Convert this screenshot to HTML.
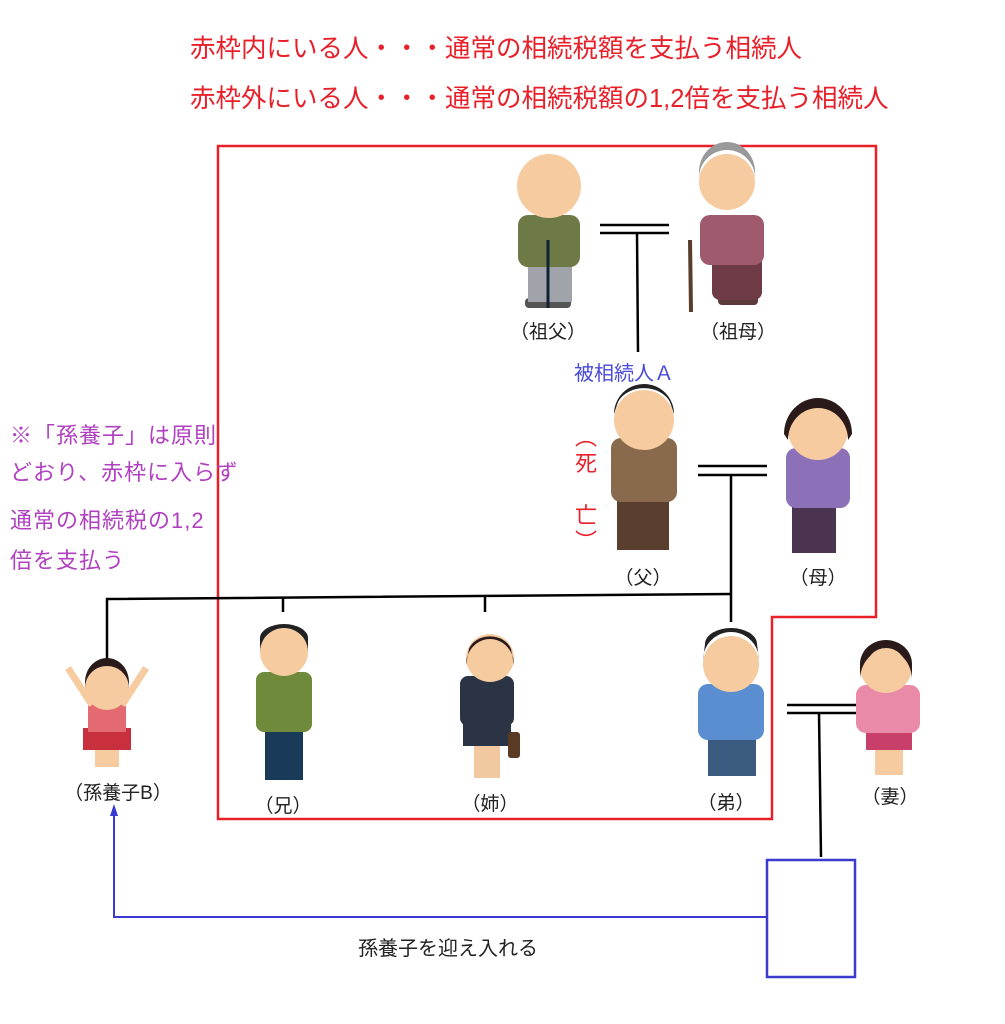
<!DOCTYPE html>
<html><head><meta charset="utf-8"><style>
body{margin:0;width:1005px;height:1024px;background:#fff;position:relative;overflow:hidden;font-family:"Liberation Sans","Noto Sans CJK JP",sans-serif}
.t{position:absolute;white-space:nowrap}
.red{color:#e8202a;font-size:25.5px}
.pur{color:#b040c0;font-size:22px;letter-spacing:1px;left:10px}
.lb{font-size:19px;color:#222;transform:translateX(-50%)}
</style></head><body>
<svg width="1005" height="1024" style="position:absolute;left:0;top:0">
<polygon points="218,146 876,146 876,617 772,617 772,819 218,819" fill="none" stroke="#e8202a" stroke-width="2.5"/>
<g stroke="#000" stroke-width="2.5" fill="none">
<line x1="600" y1="225" x2="669" y2="225"/><line x1="600" y1="233" x2="669" y2="233"/><line x1="637" y1="233" x2="638" y2="352"/>
<line x1="698" y1="466" x2="767" y2="466"/><line x1="698" y1="475" x2="767" y2="475"/><line x1="731" y1="475" x2="731" y2="622"/>
<polyline points="107,709 107,599 731,594"/>
<line x1="283" y1="598" x2="283" y2="612"/><line x1="485" y1="597" x2="485" y2="612"/>
<line x1="787" y1="705" x2="856" y2="705"/><line x1="787" y1="713" x2="856" y2="713"/><line x1="819" y1="713" x2="821" y2="857"/>
</g>
<rect x="767" y="860" width="88" height="117" fill="none" stroke="#3a3ad0" stroke-width="2.5"/>
<polyline points="767,917 114,917 114,812" fill="none" stroke="#3a3ad0" stroke-width="2"/>
<polygon points="114,804 110,816 118,816" fill="#3a3ad0"/>
<g><rect x="525" y="298" width="46" height="10" rx="4" fill="#555"/><rect x="528" y="262" width="44" height="40" fill="#a0a4aa"/><rect x="518" y="215" width="62" height="52" rx="10" fill="#6e7a46"/><circle cx="549" cy="186" r="32" fill="#f6cba0"/><line x1="548" y1="240" x2="548" y2="308" stroke="#123" stroke-width="3"/></g>
<g><rect x="718" y="295" width="40" height="10" rx="4" fill="#5b3a3a"/><rect x="712" y="255" width="50" height="45" rx="8" fill="#6e3a45"/><rect x="700" y="215" width="64" height="50" rx="10" fill="#a05a6e"/><circle cx="727" cy="182" r="28" fill="#f6cba0"/><path d="M699,178 a28,28 0 0 1 56,0 l0,-6 a28,30 0 0 0 -56,0z" fill="#999"/><line x1="690" y1="240" x2="691" y2="312" stroke="#5a3c2a" stroke-width="4"/></g>
<g><rect x="617" y="498" width="52" height="52" fill="#5a3e2e"/><rect x="611" y="438" width="66" height="64" rx="10" fill="#8a6a4c"/><circle cx="644" cy="420" r="30" fill="#f6cba0"/><path d="M614,414 a30,30 0 0 1 60,0 l-4,-12 a28,22 0 0 0 -52,0z" fill="#222"/></g>
<g><rect x="792" y="495" width="44" height="58" fill="#4a3450"/><rect x="786" y="448" width="64" height="60" rx="10" fill="#8c70b8"/><circle cx="818" cy="430" r="30" fill="#f6cba0"/><path d="M788,440 a30,32 0 0 1 60,0 l4,-6 a34,36 0 0 0 -68,0z" fill="#2a1a1a"/></g>
<g><rect x="95" y="745" width="24" height="22" fill="#f6cba0"/><rect x="83" y="728" width="48" height="22" fill="#c8303e"/><rect x="88" y="700" width="38" height="32" fill="#e46a72"/><line x1="92" y1="705" x2="68" y2="668" stroke="#f6cba0" stroke-width="7"/><line x1="122" y1="705" x2="146" y2="668" stroke="#f6cba0" stroke-width="7"/><circle cx="107" cy="688" r="22" fill="#f6cba0"/><path d="M85,688 a22,22 0 0 1 44,0 l0,-6 a22,24 0 0 0 -44,0z" fill="#2a1a1a"/></g>
<g><rect x="265" y="725" width="38" height="55" fill="#1a3a5a"/><rect x="256" y="672" width="56" height="60" rx="8" fill="#6e8a3a"/><circle cx="284" cy="652" r="24" fill="#f6cba0"/><path d="M260,652 a24,24 0 0 1 48,0 l0,-14 a24,14 0 0 0 -48,0z" fill="#222"/></g>
<g><rect x="474" y="730" width="26" height="48" fill="#f2c8a0"/><rect x="463" y="720" width="48" height="26" fill="#2a3444"/><rect x="460" y="676" width="54" height="50" rx="8" fill="#2a3444"/><rect x="508" y="732" width="12" height="26" rx="3" fill="#5a3a22"/><circle cx="490" cy="658" r="24" fill="#f6cba0"/><path d="M466,665 a24,26 0 0 1 48,0 l-3,-16 a22,18 0 0 0 -42,0z" fill="#2a1a1a"/></g>
<g><rect x="708" y="730" width="48" height="46" fill="#3a5a80"/><rect x="698" y="684" width="66" height="56" rx="10" fill="#5a8ed0"/><circle cx="731" cy="664" r="28" fill="#f6cba0"/><path d="M703,660 a28,28 0 0 1 56,0 l-2,-16 a26,16 0 0 0 -52,0z" fill="#222"/></g>
<g><rect x="875" y="745" width="28" height="30" fill="#f6cba0"/><rect x="866" y="728" width="46" height="22" fill="#c8406a"/><rect x="856" y="685" width="64" height="48" rx="10" fill="#e88aa8"/><circle cx="886" cy="667" r="26" fill="#f6cba0"/><path d="M860,680 a26,30 0 0 1 52,0 l0,-16 a26,24 0 0 0 -52,0z" fill="#2a1a1a"/><circle cx="886" cy="668" r="20" fill="#f6cba0"/></g>
</svg>
<div class="t red" style="left:190px;top:28px">赤枠内にいる人・・・通常の相続税額を支払う相続人</div>
<div class="t red" style="left:190px;top:78px">赤枠外にいる人・・・通常の相続税額の1,2倍を支払う相続人</div>
<div class="t pur" style="top:418px">※「孫養子」は原則</div>
<div class="t pur" style="top:455px">どおり、赤枠に入らず</div>
<div class="t pur" style="top:503px">通常の相続税の1,2</div>
<div class="t pur" style="top:543px">倍を支払う</div>
<div class="t" style="left:574px;top:357px;color:#4a4ad8;font-size:20px">被相続人Ａ</div>
<div class="t" style="left:573px;top:425px;color:#e8202a;font-size:22px;line-height:26px;width:26px;white-space:normal;text-align:center">︵<br>死<br><br>亡<br>︶</div>
<div class="t lb" style="left:548px;top:317px">（祖父）</div>
<div class="t lb" style="left:738px;top:317px">（祖母）</div>
<div class="t lb" style="left:643px;top:563px">（父）</div>
<div class="t lb" style="left:818px;top:563px">（母）</div>
<div class="t lb" style="left:118px;top:778px">（孫養子B）</div>
<div class="t lb" style="left:283px;top:791px">（兄）</div>
<div class="t lb" style="left:490px;top:789px">（姉）</div>
<div class="t lb" style="left:726px;top:788px">（弟）</div>
<div class="t lb" style="left:890px;top:782px">（妻）</div>
<div class="t" style="left:358px;top:932px;font-size:20px;color:#222">孫養子を迎え入れる</div>
</body></html>
